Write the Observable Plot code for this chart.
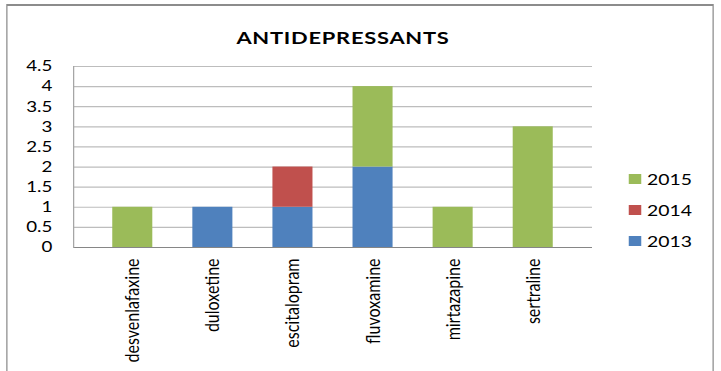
<!DOCTYPE html>
<html><head><meta charset="utf-8">
<script src="https://cdn.jsdelivr.net/npm/d3@7"></script>
<script src="https://cdn.jsdelivr.net/npm/@observablehq/plot@0.6"></script>
<style>
html,body{margin:0;padding:0;background:#fff;overflow:hidden;}
#page{width:721px;height:371px;position:relative;overflow:hidden;background:#fff;}
#wrap{position:absolute;left:0;top:0;width:576.8px;height:371px;transform:scaleX(1.25);transform-origin:0 0;font-family:Lato,"Open Sans",sans-serif;color:#000;}
#border{position:absolute;left:5px;top:4px;width:566px;height:420px;border:2px solid #8c8c8c;border-left-width:1.6px;border-right-width:1.6px;box-sizing:border-box;}
#title{position:absolute;top:29px;left:134.4px;width:280px;text-align:center;font-weight:bold;font-size:17.5px;line-height:17px;letter-spacing:0.6px;white-space:nowrap;}
#chart{position:absolute;left:0;top:0;}
.lg-row{position:absolute;left:503px;height:20px;display:flex;align-items:center;font-size:15.5px;}
.lg-sw{width:10px;height:10px;margin-right:4.6px;}
</style>
</head><body>
<div id="page"><div id="wrap">
<div id="border"></div>
<div id="title">ANTIDEPRESSANTS</div>
<div id="chart"></div>
<div id="legend"></div>
</div></div>
<script>
const drugs = ["desvenlafaxine","duloxetine","escitalopram","fluvoxamine","mirtazapine","sertraline"];
const years = ["2013","2014","2015"];
const colors = ["#4F81BD","#C0504D","#9BBB59"];
const v2013 = [0,1,1,2,0,0];
const v2014 = [0,0,1,0,0,0];
const v2015 = [1,0,0,2,1,3];
const yTicks = [0,0.5,1,1.5,2,2.5,3,3.5,4,4.5];
const legendOrder = ["2015","2014","2013"];

const seriesVals = {"2013": v2013, "2014": v2014, "2015": v2015};
const table = [];
for (const yr of years) {
  drugs.forEach((d, i) => { if (seriesVals[yr][i] > 0) table.push({drug: d, year: yr, value: seriesVals[yr][i]}); });
}

const chart = Plot.plot({
  width: 576.8, height: 371,
  marginLeft: 58.4, marginRight: 103.2, marginTop: 66, marginBottom: 124,
  style: {fontFamily: "Lato, 'Open Sans', sans-serif", fontSize: "14px", color: "#000", background: "transparent", overflow: "visible"},
  x: {domain: drugs, paddingInner: 0.5, paddingOuter: 0.49, round: false, label: null},
  y: {domain: [0, 4.5], label: null},
  color: {domain: years, range: colors},
  marks: [
    Plot.ruleY(yTicks, {stroke: "#bdbdbd", strokeWidth: 1.2}),
    Plot.barY(table, {x: "drug", y: "value", fill: "year", order: years}),
    Plot.ruleY([0], {stroke: "#868686", strokeWidth: 1.2}),
    Plot.frame({anchor: "left", stroke: "#a6a6a6"}),
    Plot.axisY({ticks: yTicks, tickSize: 0, tickPadding: 17, fontSize: 15, tickFormat: d => String(d)}),
    Plot.axisX({tickSize: 0, tickPadding: 11, tickRotate: -90, fontSize: 16})
  ]
});
document.getElementById("chart").appendChild(chart);

const lg = document.getElementById("legend");
const rowCenters = {"2015": 179, "2014": 210, "2013": 241};
legendOrder.forEach(yr => {
  const row = document.createElement("div");
  row.className = "lg-row";
  row.style.top = (rowCenters[yr] - 10) + "px";
  const sw = document.createElement("div");
  sw.className = "lg-sw";
  sw.style.background = colors[years.indexOf(yr)];
  const t = document.createElement("span");
  t.textContent = yr;
  row.appendChild(sw); row.appendChild(t);
  lg.appendChild(row);
});
</script>
</body></html>
